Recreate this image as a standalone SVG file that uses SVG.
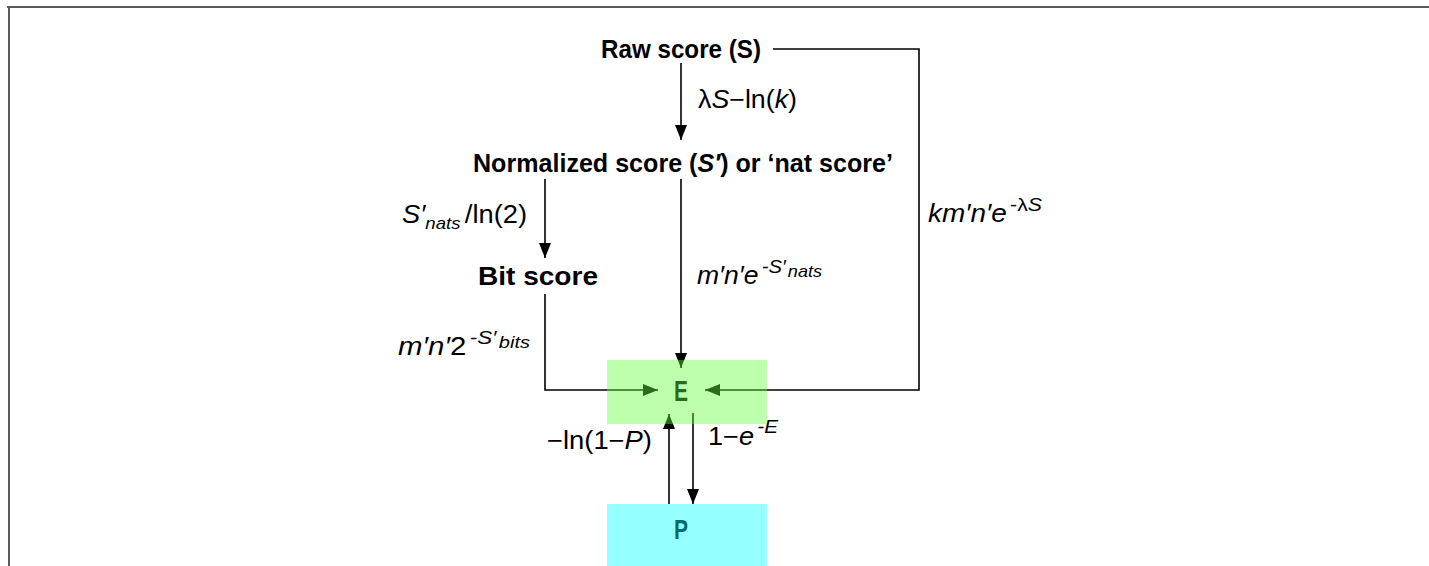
<svg xmlns="http://www.w3.org/2000/svg" width="1429" height="566" viewBox="0 0 1429 566">
  <style>
    .node { font-family: "Liberation Sans", Arial, sans-serif; font-weight: bold; font-size: 25px; fill: #000; }
    .lbl { font-family: "Liberation Sans", Arial, sans-serif; font-size: 25px; fill: #000; }
    .it { font-style: italic; }
    .sup { font-size: 19px; }
    .sub { font-size: 17px; }
    .edge { fill: none; stroke: #000; stroke-width: 1.6; }
    .border { stroke: #5a5a5a; stroke-width: 2; fill: none; }
  </style>
  <defs>
    <marker id="arr" markerUnits="userSpaceOnUse" markerWidth="16" markerHeight="13" refX="15" refY="6" orient="auto">
      <path d="M0,0 L15,6 L0,12 z" fill="#000"/>
    </marker>
  </defs>
  <rect width="1429" height="566" fill="#fff"/>
  <path class="border" d="M7,7 H1429 M9,7 V566"/>

  <g id="connectors">
    <g id="e-raw-norm">
      <path class="edge" d="M681,63 V140" marker-end="url(#arr)"/>
      <text class="lbl" x="698" y="108" textLength="99" lengthAdjust="spacingAndGlyphs"><tspan>λ</tspan><tspan class="it">S</tspan><tspan>−ln(</tspan><tspan class="it">k</tspan><tspan>)</tspan></text>
    </g>
    <g id="e-raw-E">
      <path class="edge" d="M773,49 H919 V390 H705" marker-end="url(#arr)"/>
      <text class="lbl" x="928" y="222" textLength="114" lengthAdjust="spacingAndGlyphs"><tspan class="it">km′n′e</tspan><tspan class="sup" dy="-11" dx="3">-λ</tspan><tspan class="sup it">S</tspan></text>
    </g>
    <g id="e-norm-bit">
      <path class="edge" d="M545,179 V258" marker-end="url(#arr)"/>
      <text class="lbl" x="402" y="223" textLength="125" lengthAdjust="spacingAndGlyphs"><tspan class="it">S′</tspan><tspan class="sub it" dy="6">nats</tspan><tspan dy="-6" dx="4">/ln(2)</tspan></text>
    </g>
    <g id="e-norm-E">
      <path class="edge" d="M681,179 V368" marker-end="url(#arr)"/>
      <text class="lbl" x="697" y="284" textLength="125" lengthAdjust="spacingAndGlyphs"><tspan class="it">m′n′e</tspan><tspan class="sup it" dy="-11" dx="3">-S′</tspan><tspan class="sub it" dy="4" dx="2">nats</tspan></text>
    </g>
    <g id="e-bit-E">
      <path class="edge" d="M545,294 V390 H658" marker-end="url(#arr)"/>
      <text class="lbl" x="398" y="355" textLength="132" lengthAdjust="spacingAndGlyphs"><tspan class="it">m′n′</tspan><tspan>2</tspan><tspan class="sup it" dy="-11" dx="3">-S′</tspan><tspan class="sub it" dy="4" dx="2">bits</tspan></text>
    </g>
    <g id="e-E-P">
      <path class="edge" d="M693,413 V504" marker-end="url(#arr)"/>
      <text class="lbl" x="708" y="445" textLength="70" lengthAdjust="spacingAndGlyphs"><tspan>1−</tspan><tspan class="it">e</tspan><tspan class="sup it" dy="-12" dx="3">-E</tspan></text>
    </g>
    <g id="e-P-E">
      <path class="edge" d="M669,504 V414" marker-end="url(#arr)"/>
      <text class="lbl" x="547" y="449" textLength="105" lengthAdjust="spacingAndGlyphs"><tspan>−ln(1−</tspan><tspan class="it">P</tspan><tspan>)</tspan></text>
    </g>
  </g>

  <g id="node-raw">
    <text class="node" x="601" y="58" textLength="160" lengthAdjust="spacingAndGlyphs">Raw score (S)</text>
  </g>
  <g id="node-norm">
    <text class="node" x="473" y="172" textLength="420" lengthAdjust="spacingAndGlyphs">Normalized score (<tspan class="it">S′</tspan>) or ‘nat score’</text>
  </g>
  <g id="node-bit">
    <text class="node" x="478" y="285" textLength="120" lengthAdjust="spacingAndGlyphs">Bit score</text>
  </g>
  <g id="node-E">
    <text class="node" x="674" y="401" style="font-size:30px" textLength="14" lengthAdjust="spacingAndGlyphs">E</text>
    <rect x="607" y="360" width="160" height="64" fill="rgb(100,255,60)" fill-opacity="0.42"/>
  </g>
  <g id="node-P">
    <text class="node" x="674" y="539" style="font-size:28px" textLength="14" lengthAdjust="spacingAndGlyphs">P</text>
    <rect x="607" y="504" width="160" height="62" fill="rgb(0,255,255)" fill-opacity="0.41"/>
  </g>
</svg>
